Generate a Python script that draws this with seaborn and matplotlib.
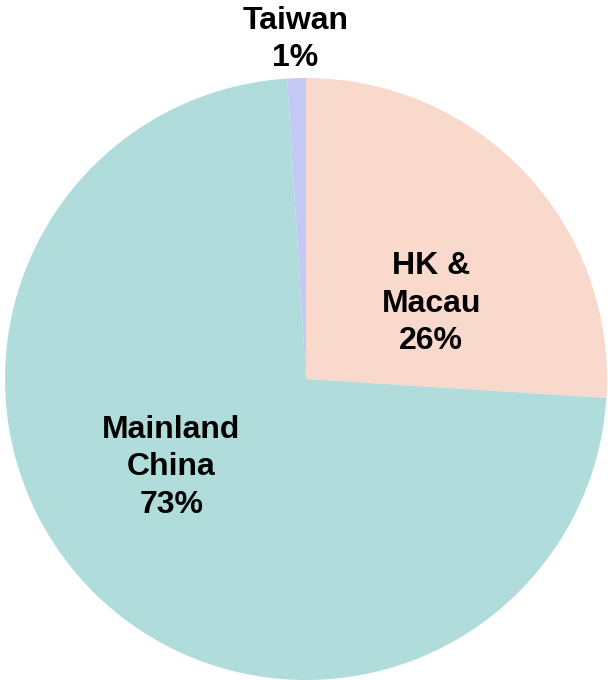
import matplotlib
matplotlib.use('Agg')
from matplotlib import pyplot as plt
import seaborn as sns
import numpy as np

regions = ['HK &\nMacau', 'Mainland\nChina', 'Taiwan']
shares = [26, 73, 1]
colors = ['#F9D9CC', '#B0DCDB', '#C3C9F4']
# label spots (radius fraction, angle in degrees)
label_r = [0.485, 0.535, 1.128]
label_ang = [31.0, 213.3, 91.8]

sns.set_style('white')
plt.rcParams['font.family'] = ['Liberation Sans', 'DejaVu Sans']

fig = plt.figure(figsize=(6.08, 6.80), dpi=100)
ax = fig.add_axes([0, 0, 1, 1])
ax.pie(shares, colors=colors, startangle=90, counterclock=False,
       wedgeprops=dict(linewidth=0))

for name, val, r, a in zip(regions, shares, label_r, label_ang):
    t = np.deg2rad(a)
    ax.text(r * np.cos(t), r * np.sin(t), f'{name}\n{val}%',
            ha='center', va='center', fontsize=23, fontweight='bold',
            linespacing=1.33, color='black')

R = 301.0
ax.set_xlim(-306 / R, (608 - 306) / R)
ax.set_ylim(-(680 - 379) / R, 379 / R)
ax.set_aspect('auto')
ax.axis('off')

fig.savefig('out.png', dpi=100)
